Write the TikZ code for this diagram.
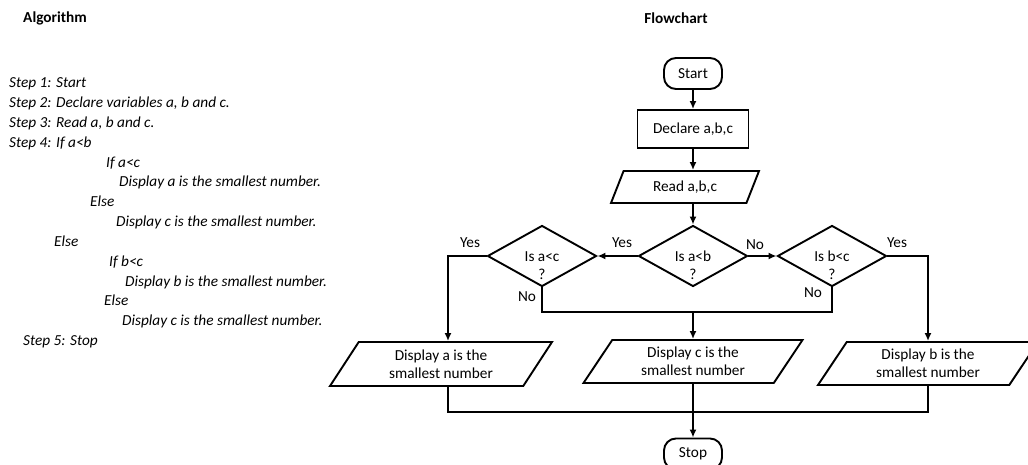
\documentclass[tikz,border=0pt]{standalone}
\usepackage{fontspec}
\setmainfont{Carlito}
\usetikzlibrary{shapes.geometric, arrows.meta, calc}
\begin{document}
\begin{tikzpicture}[x=1pt, y=-1pt,
  every node/.style={font=\fontsize{15.3}{18}\selectfont},
  line/.style={line width=1.9pt},
  arrow/.style={line, -{Latex[length=8pt, width=7pt]}},
  terminal/.style={draw, line width=1.9pt, rectangle, rounded corners=12pt,
    minimum width=58pt, minimum height=31pt, inner sep=0pt},
  process/.style={draw, line width=1.9pt, rectangle,
    minimum width=111pt, minimum height=38pt, inner sep=0pt},
  io/.style={draw, line width=1.9pt, trapezium, trapezium left angle=45,
    trapezium right angle=135, trapezium stretches body, align=center, inner sep=0pt},
  decision/.style={draw, line width=1.9pt, diamond, inner sep=0pt,
    minimum width=109pt, minimum height=61pt},
  ask/.style={label={[yshift=-9.5pt, align=center, inner sep=0pt]center:#1}},
  algo/.style={font=\fontsize{15.3}{18}\selectfont\itshape, anchor=base west, inner sep=0pt},
  heading/.style={font=\fontsize{15.3}{18}\selectfont\bfseries, inner sep=0pt},
  tag/.style={inner sep=0pt}]

\useasboundingbox (0,0) rectangle (1028,465);

% headings
\node[heading] (algtitle) at (55,18) {Algorithm};
\node[heading] (flowtitle) at (676,18) {Flowchart};

% algorithm text, one line per node
\foreach \i/\dx/\txt in {
  0/0/{Step 1: Start},
  1/0/{Step 2: Declare variables a, b and c.},
  2/0/{Step 3: Read a, b and c.},
  3/0/{Step 4: If a<b},
  4/97/{If a<c},
  5/110/{Display a is the smallest number.},
  6/81/{Else},
  7/107/{Display c is the smallest number.},
  8/45/{Else},
  9/100/{If b<c},
  10/116/{Display b is the smallest number.},
  11/95/{Else},
  12/113/{Display c is the smallest number.},
  13/14/{Step 5: Stop}}
  \node[algo] (line\i) at (9+\dx, 88+19.8*\i) {\txt};

% flowchart nodes
\node[terminal] (start) at (693,73.5) {Start};
\node[process] (declare) at (693,129) {Declare a,b,c};
\node[io, minimum width=148pt, minimum height=32pt] (read) at (685,187) {Read a,b,c};
\node[decision, ask={Is a<b\\?}] (ab) at (693,256) {};
\node[decision, ask={Is a<c\\?}] (ac) at (542,256) {};
\node[decision, ask={Is b<c\\?}] (bc) at (832,256) {};
\node[io, minimum width=222pt, minimum height=44pt] (dispA) at (441,364) {Display a is the\\smallest number};
\node[io, minimum width=219pt, minimum height=43pt] (dispC) at (693,361.5) {Display c is the\\smallest number};
\node[io, minimum width=220pt, minimum height=43pt] (dispB) at (928,363.5) {Display b is the\\smallest number};
\node[terminal] (stop) at (693,454) {Stop};

% branch labels
\node[tag] (yesab) at (622,243) {Yes};
\node[tag] (noab) at (755,245) {No};
\node[tag] (yesac) at (470,243) {Yes};
\node[tag] (noac) at (527,297) {No};
\node[tag] (yesbc) at (897,243) {Yes};
\node[tag] (nobc) at (813,293) {No};

% helper points
\coordinate (ax) at ($(dispA.center)+(7,0)$);
\coordinate (merge) at (693,312);
\coordinate (join) at (693,412);

% connectors
\draw[arrow] (start.south) -- (start.south |- declare.north);
\draw[arrow] (declare.south) -- (declare.south |- read.north);
\draw[arrow] (read.south -| ab.north) -- (ab.north);
\draw[arrow] (ab.west) -- (ac.east);
\draw[arrow] (ab.east) -- (bc.west);
\draw[arrow] (ac.west) -| (ax |- dispA.north);
\draw[arrow] (bc.east) -| (dispB.center |- dispB.north);
\draw[line] (ac.south) |- (merge) -| (bc.south);
\draw[arrow] (merge) -- (merge |- dispC.north);
\draw[line] (ax |- dispA.south) |- (join) -| (dispB.center |- dispB.south);
\draw[arrow] (dispC.center |- dispC.south) -- (stop.north);
\end{tikzpicture}
\end{document}
